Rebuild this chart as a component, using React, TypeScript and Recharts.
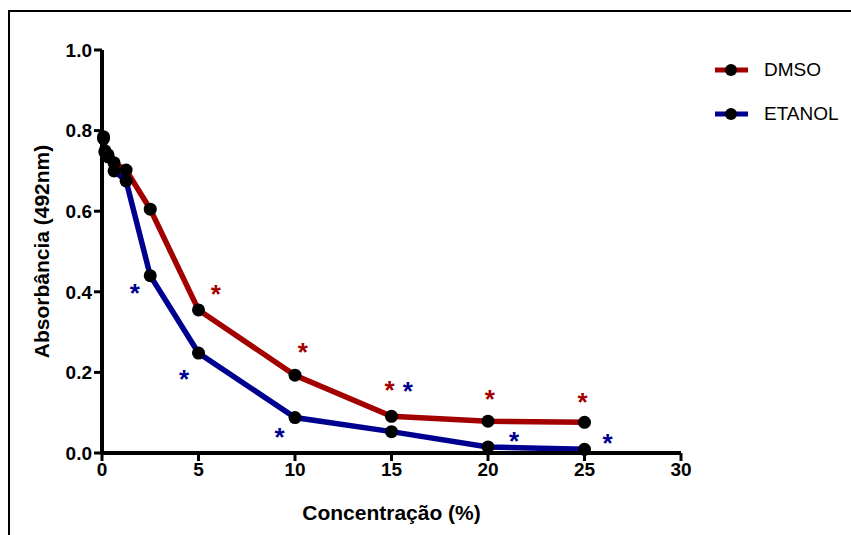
import { ComposedChart, Line, Scatter, XAxis, YAxis } from 'recharts'

const concentracoes = [0.078, 0.156, 0.3125, 0.625, 1.25, 2.5, 5, 10, 15, 20, 25]
const dmso = [0.785, 0.75, 0.74, 0.72, 0.702, 0.605, 0.355, 0.193, 0.091, 0.079, 0.076]
const etanol = [0.78, 0.746, 0.735, 0.7, 0.675, 0.44, 0.248, 0.088, 0.053, 0.015, 0.009]

// asteriscos de significancia (posicao em unidades do grafico)
const starsDmsoX = [5.9, 10.4, 14.9, 20.1, 24.9]
const starsDmsoY = [0.408, 0.262, 0.168, 0.146, 0.139]
const starsEtanolX = [1.7, 4.25, 9.2, 15.85, 21.35, 26.2]
const starsEtanolY = [0.41, 0.196, 0.052, 0.166, 0.042, 0.037]

const xTicks = [0, 5, 10, 15, 20, 25, 30]
const yTicks = [0, 0.2, 0.4, 0.6, 0.8, 1.0]

const legendNames = ['DMSO', 'ETANOL']

const RED = '#a30000'
const BLUE = '#000090'
const FONT = '"Liberation Sans", Arial, sans-serif'

const dmsoData = concentracoes.map((x, i) => ({ x, y: dmso[i] }))
const etanolData = concentracoes.map((x, i) => ({ x, y: etanol[i] }))
const starsDmso = starsDmsoX.map((x, i) => ({ x, y: starsDmsoY[i] }))
const starsEtanol = starsEtanolX.map((x, i) => ({ x, y: starsEtanolY[i] }))

function Star({ cx, cy, color }: { cx?: number; cy?: number; color: string }) {
  if (cx == null || cy == null) return null
  return (
    <text x={cx} y={cy + 14} textAnchor="middle" fontSize={26} fontWeight="bold" fontFamily={FONT} fill={color}>
      *
    </text>
  )
}

function Dot({ cx, cy }: { cx?: number; cy?: number }) {
  if (cx == null || cy == null) return null
  return <circle cx={cx} cy={cy} r={6.5} fill="#000" />
}

function LegendBox() {
  const colors = [RED, BLUE]
  return (
    <div style={{ position: 'absolute', left: 712, top: 48, fontFamily: FONT, fontSize: 19 }}>
      {legendNames.map((name, i) => (
        <div key={name} style={{ display: 'flex', alignItems: 'center', height: 44 }}>
          <svg width={52} height={14}>
            <line x1={3} y1={7} x2={36} y2={7} stroke={colors[i]} strokeWidth={5} />
            <circle cx={19} cy={7} r={6} fill="#000" />
          </svg>
          <span>{name}</span>
        </div>
      ))}
    </div>
  )
}

const tickStyle = { fontSize: 19, fontWeight: 'bold', fill: '#000', fontFamily: FONT }

export default function App() {
  return (
    <div style={{ position: 'absolute', left: 0, top: 0, width: 851, height: 535, background: '#fff' }}>
      <div style={{ position: 'absolute', left: 9, top: 10, width: 842, height: 2, background: '#000' }} />
      <div style={{ position: 'absolute', left: 8, top: 10, width: 2, height: 525, background: '#000' }} />
      <ComposedChart
        width={851}
        height={535}
        margin={{ top: 50, right: 170, bottom: 52, left: 42 }}
        style={{ fontFamily: FONT }}
      >
        <XAxis
          type="number"
          dataKey="x"
          domain={[0, 30]}
          ticks={xTicks}
          height={30}
          axisLine={{ stroke: '#000', strokeWidth: 4 }}
          tickLine={{ stroke: '#000', strokeWidth: 3 }}
          tickSize={8}
          tick={tickStyle}
          label={{
            value: 'Concentração (%)',
            position: 'bottom',
            offset: 22,
            style: { fontSize: 21, fontWeight: 'bold', fill: '#000', fontFamily: FONT },
          }}
        />
        <YAxis
          type="number"
          dataKey="y"
          domain={[0, 1]}
          ticks={yTicks}
          width={60}
          tickFormatter={(v: number) => v.toFixed(1)}
          axisLine={{ stroke: '#000', strokeWidth: 4 }}
          tickLine={{ stroke: '#000', strokeWidth: 3 }}
          tickSize={8}
          tick={tickStyle}
          label={{
            value: 'Absorbância (492nm)',
            angle: -90,
            position: 'insideLeft',
            offset: 0,
            style: { fontSize: 21, fontWeight: 'bold', fill: '#000', fontFamily: FONT, textAnchor: 'middle' },
          }}
        />
        <Line
          data={dmsoData}
          dataKey="y"
          name="DMSO"
          type="linear"
          stroke={RED}
          strokeWidth={5.5}
          dot={<Dot />}
          isAnimationActive={false}
        />
        <Line
          data={etanolData}
          dataKey="y"
          name="ETANOL"
          type="linear"
          stroke={BLUE}
          strokeWidth={5.5}
          dot={<Dot />}
          isAnimationActive={false}
        />
        <Scatter data={starsDmso} dataKey="y" shape={<Star color={RED} />} isAnimationActive={false} />
        <Scatter data={starsEtanol} dataKey="y" shape={<Star color={BLUE} />} isAnimationActive={false} />
      </ComposedChart>
      <LegendBox />
    </div>
  )
}
